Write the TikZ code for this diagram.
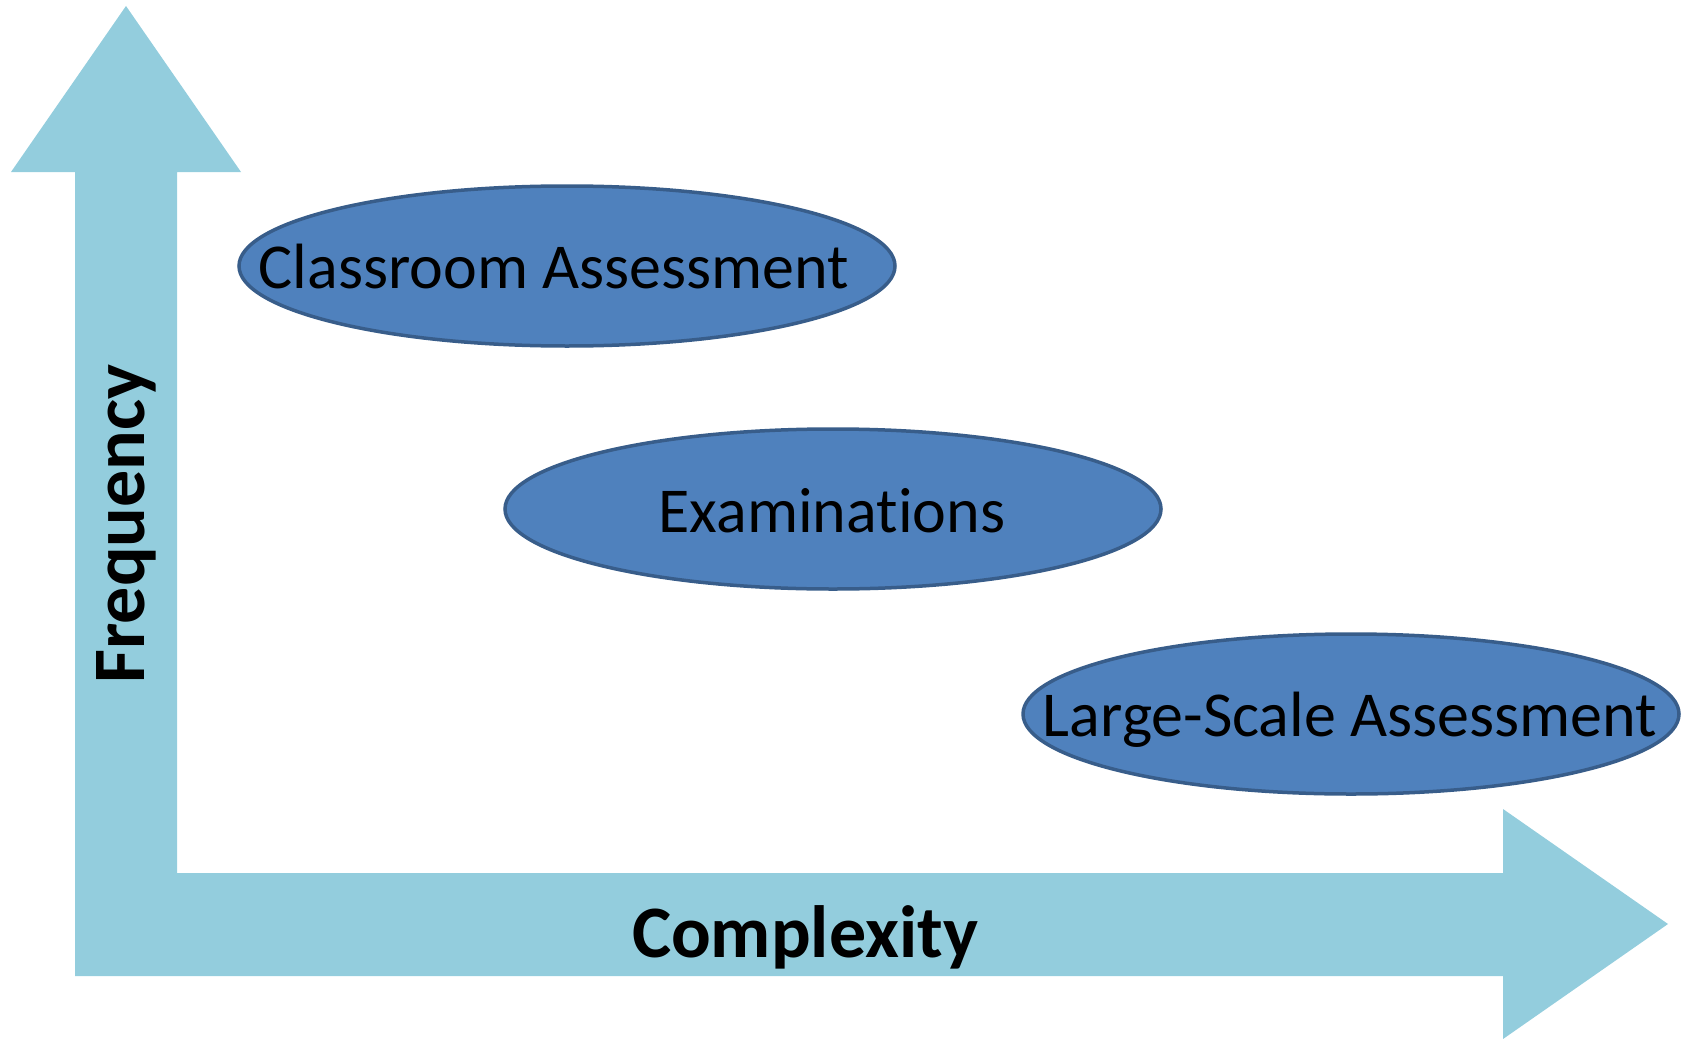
\documentclass[tikz,border=0pt]{standalone}
\usepackage{fontspec}
\setmainfont[Ligatures={NoCommon}]{Carlito}
\usetikzlibrary{shapes.geometric}
\definecolor{axisblue}{HTML}{93CDDD}
\definecolor{ellfill}{HTML}{4F81BD}
\definecolor{elldraw}{HTML}{385D8A}
\tikzset{
  ellbox/.style={ellipse, fill=ellfill, draw=elldraw, line width=3.5pt, minimum width=656pt, minimum height=160pt, inner sep=0pt},
  elltext/.style={anchor=base, inner sep=0pt, font=\fontsize{64}{77}\selectfont},
  axistext/.style={inner sep=0pt, font=\fontsize{74}{88}\selectfont\bfseries}
}
\begin{document}
\begin{tikzpicture}[x=1pt,y=-1pt]
\useasboundingbox (0,0) rectangle (1688,1038);
\fill[axisblue] (126,6) -- (241,172) -- (177,172) -- (177,873) -- (1503,873) -- (1503,809) -- (1668,924) -- (1503,1039) -- (1503,976) -- (75,976) -- (75,172) -- (11,172) -- cycle;
\node[ellbox] (ca) at (567,266) {};
\node[ellbox] (ex) at (833,509) {};
\node[ellbox] (ls) at (1351,714) {};
\node[elltext] (cat) at (554,288) {Classroom Assessment};
\node[elltext] (ext) at (832,532) {Examinations};
\node[elltext] (lst) at (1350,736) {Large-Scale Assessment};
\node[axistext, rotate=90] (freq) at (126,524) {Frequency};
\node[axistext, anchor=base] (comp) at (805,957) {Complexity};
\end{tikzpicture}
\end{document}
